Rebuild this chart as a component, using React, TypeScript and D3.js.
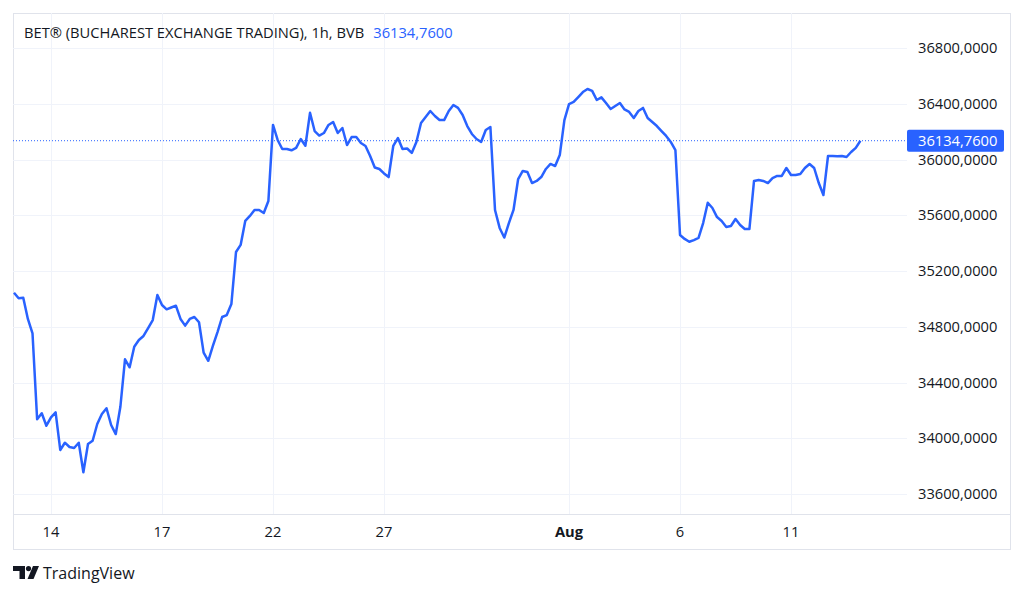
import { useEffect, useRef } from 'react';
import * as d3 from 'd3';

// hourly closes, 8 bars per trading day
const dayLabels = ['13', '14', '15', '16', '17', '20', '21', '22', '23', '24', '27', '28', '29', '30', '31', 'Aug', '4', '5', '6', '7', '10', '11', '12'];
const shownTicks = ['14', '17', '22', '27', 'Aug', '6', '11'];

const jul13 = [35044, 35004, 35008, 34856, 34753, 34136, 34179, 34090];
const jul14 = [34150, 34186, 33916, 33968, 33937, 33930, 33968, 33756];
const jul15 = [33959, 33982, 34102, 34174, 34215, 34095, 34030, 34226];
const jul16 = [34566, 34509, 34657, 34705, 34734, 34791, 34848, 35028];
const jul17 = [34956, 34925, 34938, 34951, 34856, 34808, 34856, 34870];
const jul20 = [34832, 34614, 34556, 34662, 34762, 34870, 34884, 34963];
const jul21 = [35336, 35387, 35559, 35595, 35638, 35638, 35616, 35702];
const jul22 = [36248, 36140, 36075, 36075, 36066, 36083, 36147, 36099];
const jul23 = [36335, 36204, 36172, 36190, 36248, 36269, 36190, 36226];
const jul24 = [36104, 36161, 36161, 36118, 36097, 36025, 35943, 35932];
const jul27 = [35900, 35874, 36097, 36154, 36075, 36079, 36047, 36126];
const jul28 = [36262, 36305, 36348, 36312, 36283, 36283, 36348, 36391];
const jul29 = [36370, 36319, 36240, 36183, 36147, 36126, 36212, 36233];
const jul30 = [35638, 35509, 35440, 35544, 35638, 35860, 35918, 35910];
const jul31 = [35831, 35846, 35874, 35932, 35968, 35953, 36032, 36283];
const aug3 = [36398, 36413, 36448, 36484, 36506, 36492, 36427, 36446];
const aug4 = [36405, 36362, 36384, 36405, 36359, 36341, 36298, 36348];
const aug5 = [36370, 36298, 36269, 36240, 36204, 36169, 36126, 36068];
const aug6 = [35458, 35430, 35410, 35422, 35437, 35544, 35690, 35652];
const aug7 = [35587, 35559, 35516, 35523, 35573, 35530, 35501, 35501];
const aug10 = [35846, 35853, 35846, 35831, 35867, 35882, 35882, 35939];
const aug11 = [35889, 35889, 35896, 35939, 35968, 35939, 35831, 35745];
const aug12 = [36025, 36025, 36023, 36025, 36018, 36054, 36083, 36134.76];

const priceTicks = [33600, 34000, 34400, 34800, 35200, 35600, 36000, 36400, 36800];
const title = 'BET® (BUCHAREST EXCHANGE TRADING), 1h, BVB';

const W = 1024;
const H = 596;
const frame = { left: 13, top: 13, right: 1010, bottom: 549 };
const plotRight = 907;
const plotBottom = 514;
const barsPerDay = 8;
const blue = '#2962ff';
const font = '"Open Sans", Roboto, sans-serif';
const fontSize = 14.7;

const fmt = (v: number) => v.toFixed(4).replace('.', ',');

const App = () => {
    const svgRef = useRef<SVGSVGElement>(null);

    useEffect(() => {
        const days = [jul13, jul14, jul15, jul16, jul17, jul20, jul21, jul22, jul23, jul24, jul27, jul28, jul29, jul30, jul31, aug3, aug4, aug5, aug6, aug7, aug10, aug11, aug12];
        const values = days.flat();
        const last = values[values.length - 1];

        const x = d3.scaleLinear().domain([0, values.length - 1]).range([14, 860.4]);
        const y = d3.scaleLinear().domain([33600, 36800]).range([494, 48]);

        const svg = d3.select(svgRef.current);
        svg.selectAll('*').remove();

        svg.append('rect').attr('width', W).attr('height', H).attr('fill', '#fff');

        // frame
        svg.append('rect')
            .attr('x', frame.left + 0.5)
            .attr('y', frame.top + 0.5)
            .attr('width', frame.right - frame.left)
            .attr('height', frame.bottom - frame.top)
            .attr('fill', 'none')
            .attr('stroke', '#e0e3eb');

        // grid
        const grid = svg.append('g').attr('stroke', '#f0f3fa').attr('stroke-width', 1);
        grid.selectAll('line.h')
            .data(priceTicks)
            .join('line')
            .attr('class', 'h')
            .attr('x1', frame.left)
            .attr('x2', plotRight)
            .attr('y1', d => Math.round(y(d)) + 0.5)
            .attr('y2', d => Math.round(y(d)) + 0.5);
        grid.selectAll('line.v')
            .data(shownTicks)
            .join('line')
            .attr('class', 'v')
            .attr('x1', d => Math.round(x(dayLabels.indexOf(d) * barsPerDay)) + 0.5)
            .attr('x2', d => Math.round(x(dayLabels.indexOf(d) * barsPerDay)) + 0.5)
            .attr('y1', frame.top)
            .attr('y2', plotBottom);

        // x axis border
        svg.append('line')
            .attr('x1', frame.left)
            .attr('x2', frame.right)
            .attr('y1', plotBottom + 0.5)
            .attr('y2', plotBottom + 0.5)
            .attr('stroke', '#e0e3eb');

        // last price line
        svg.append('line')
            .attr('x1', frame.left)
            .attr('x2', plotRight)
            .attr('y1', y(last))
            .attr('y2', y(last))
            .attr('stroke', blue)
            .attr('stroke-width', 1)
            .attr('stroke-dasharray', '1 2');

        // series
        svg.append('path')
            .datum(values)
            .attr('fill', 'none')
            .attr('stroke', blue)
            .attr('stroke-width', 2.5)
            .attr('stroke-linejoin', 'round')
            .attr('d', d3.line<number>().x((_, i) => x(i)).y(d => y(d)));

        // price axis labels
        svg.append('g')
            .selectAll('text')
            .data(priceTicks)
            .join('text')
            .attr('x', 918)
            .attr('y', d => y(d))
            .attr('dy', '0.35em')
            .attr('font-family', font)
            .attr('font-size', fontSize)
            .attr('fill', '#131722')
            .text(d => fmt(d));

        // last price badge
        svg.append('rect')
            .attr('x', plotRight)
            .attr('y', y(last) - 11)
            .attr('width', 97)
            .attr('height', 22)
            .attr('rx', 2)
            .attr('fill', blue);
        svg.append('text')
            .attr('x', 918)
            .attr('y', y(last))
            .attr('dy', '0.35em')
            .attr('font-family', font)
            .attr('font-size', fontSize)
            .attr('fill', '#fff')
            .text(fmt(last));

        // time axis labels
        svg.append('g')
            .selectAll('text')
            .data(shownTicks)
            .join('text')
            .attr('x', d => x(dayLabels.indexOf(d) * barsPerDay))
            .attr('y', 532)
            .attr('dy', '0.35em')
            .attr('text-anchor', 'middle')
            .attr('font-family', font)
            .attr('font-size', fontSize)
            .attr('font-weight', d => (d === 'Aug' ? 700 : 400))
            .attr('fill', '#131722')
            .text(d => d);

        // legend title
        const legend = svg.append('text')
            .attr('x', 24)
            .attr('y', 33)
            .attr('dy', '0.35em')
            .attr('font-family', font)
            .attr('font-size', fontSize)
            .attr('fill', '#131722');
        legend.append('tspan').text(title);
        legend.append('tspan').attr('dx', 9).attr('fill', blue).text(fmt(last));

        // TradingView mark
        const logo = svg.append('g').attr('fill', '#131722');
        logo.append('path').attr('d', 'M13 566 H25 V579 H19.5 V571 H13 Z');
        logo.append('circle').attr('cx', 28.5).attr('cy', 568.6).attr('r', 2.6);
        logo.append('path').attr('d', 'M33 566 H39 L33.5 579 H27.5 Z');
        svg.append('text')
            .attr('x', 43)
            .attr('y', 579)
            .attr('font-family', font)
            .attr('font-size', 16)
            .attr('fill', '#131722')
            .text('TradingView');
    }, []);

    return (
        <div style={{ position: 'absolute', left: 0, top: 0 }}>
            <svg ref={svgRef} width={W} height={H} style={{ display: 'block' }}></svg>
        </div>
    );
};

export default App;
